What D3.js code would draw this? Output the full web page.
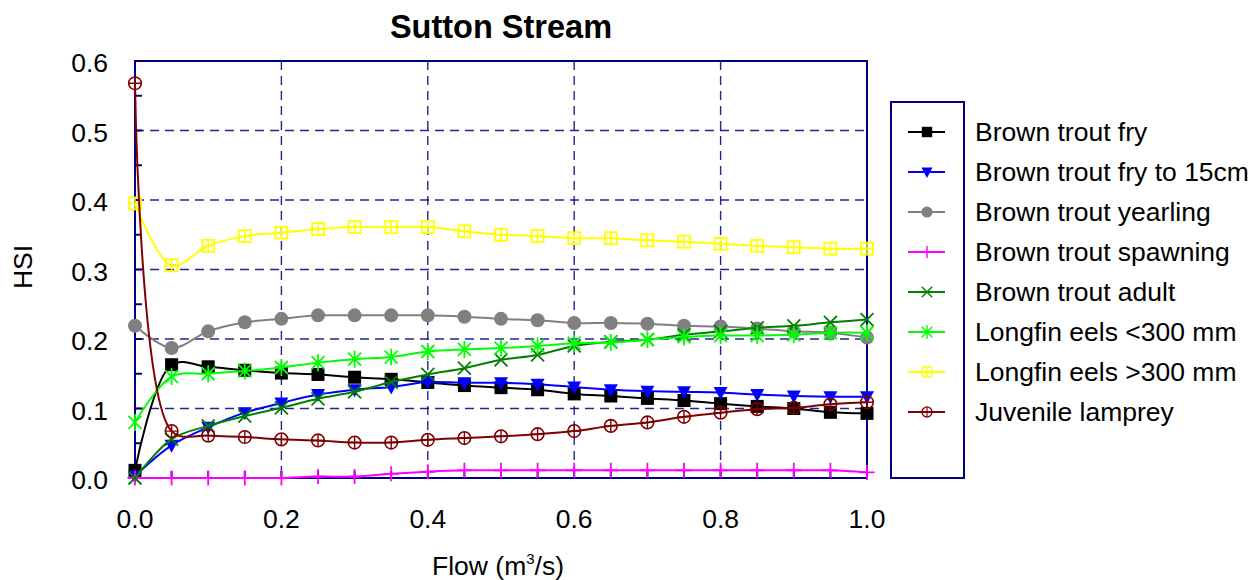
<!DOCTYPE html>
<html>
<head>
<meta charset="utf-8">
<script src="https://cdn.jsdelivr.net/npm/d3@7"></script>
<style>
  body { margin: 0; background: #fff; }
  text { font-family: "Liberation Sans", Arial, sans-serif; }
</style>
</head>
<body>
<div id="chart"></div>
<script>
// Data
const flow = [0, 0.05, 0.1, 0.15, 0.2, 0.25, 0.3, 0.35, 0.4, 0.45, 0.5,
              0.55, 0.6, 0.65, 0.7, 0.75, 0.8, 0.85, 0.9, 0.95, 1.0]

const troutFry = [0.011, 0.163, 0.16, 0.155, 0.151, 0.149, 0.145, 0.142, 0.1375, 0.133, 0.13,
                  0.127, 0.121, 0.118, 0.1145, 0.1115, 0.107, 0.103, 0.1, 0.0945, 0.093]
const troutFry15 = [0.003, 0.047, 0.073, 0.094, 0.108, 0.12, 0.127, 0.131, 0.138, 0.137, 0.137,
                    0.135, 0.131, 0.127, 0.125, 0.124, 0.123, 0.12, 0.118, 0.117, 0.117]
const troutYearling = [0.219, 0.187, 0.211, 0.224, 0.229, 0.234, 0.234, 0.234, 0.234, 0.232, 0.229,
                       0.227, 0.223, 0.223, 0.222, 0.219, 0.218, 0.215, 0.211, 0.209, 0.202]
const troutSpawning = [0, 0, 0, 0, 0, 0.002, 0.002, 0.006, 0.009, 0.011, 0.011,
                       0.011, 0.011, 0.011, 0.011, 0.011, 0.011, 0.011, 0.011, 0.011, 0.008]
const troutAdult = [0, 0.056, 0.075, 0.089, 0.101, 0.114, 0.124, 0.138, 0.149, 0.158, 0.17,
                    0.177, 0.19, 0.196, 0.199, 0.206, 0.211, 0.216, 0.219, 0.224, 0.228]
const eelsSmall = [0.08, 0.146, 0.15, 0.154, 0.159, 0.166, 0.171, 0.174, 0.182, 0.185, 0.187,
                   0.19, 0.194, 0.195, 0.199, 0.203, 0.205, 0.205, 0.206, 0.209, 0.209]
const eelsLarge = [0.395, 0.306, 0.334, 0.348, 0.353, 0.358, 0.361, 0.361, 0.361, 0.355, 0.35,
                   0.348, 0.345, 0.345, 0.342, 0.34, 0.337, 0.334, 0.332, 0.33, 0.33]
const lamprey = [0.568, 0.0675, 0.061, 0.059, 0.0556, 0.054, 0.051, 0.051, 0.055, 0.0575, 0.06,
                 0.063, 0.0675, 0.075, 0.08, 0.088, 0.094, 0.099, 0.101, 0.106, 0.109]

const seriesNames = ["Brown trout fry", "Brown trout fry to 15cm", "Brown trout yearling",
    "Brown trout spawning", "Brown trout adult", "Longfin eels <300 mm", "Longfin eels >300 mm",
    "Juvenile lamprey"]
const seriesValues = [troutFry, troutFry15, troutYearling, troutSpawning, troutAdult,
    eelsSmall, eelsLarge, lamprey]
const seriesColors = ["#000000", "#0000ff", "#808080", "#ff00ff", "#008000", "#00ff00", "#ffff00", "#800000"]
const seriesMarkers = ["square", "triangle", "circle", "plus", "cross", "star", "boxcross", "circleplus"]

const yTicks = [0, 0.1, 0.2, 0.3, 0.4, 0.5, 0.6]
const xTicks = [0, 0.2, 0.4, 0.6, 0.8, 1.0]

// Graph dimension
const W = 1252, H = 580
const margin = { top: 61, right: 385, bottom: 102, left: 135 },
    width = W - margin.left - margin.right,
    height = H - margin.top - margin.bottom

const svg = d3.select("#chart")
    .append("svg")
    .attr("width", W)
    .attr("height", H)

const g = svg.append("g")
    .attr("transform", `translate(${margin.left},${margin.top})`)

const x = d3.scaleLinear().domain([0, 1]).range([0, width])
const y = d3.scaleLinear().domain([0, 0.6]).range([height, 0])

const navy = "#000080"
const fs = "26.5px"

// grid
g.selectAll(".hgrid")
    .data(yTicks.slice(1, -1))
    .join("line")
    .attr("x1", 0).attr("x2", width)
    .attr("y1", d => y(d)).attr("y2", d => y(d))
    .attr("stroke", navy).attr("stroke-width", 1.4)
    .attr("stroke-dasharray", "9,6")
    .attr("opacity", 0.85)

g.selectAll(".vgrid")
    .data(xTicks.slice(1, -1))
    .join("line")
    .attr("y1", 0).attr("y2", height)
    .attr("x1", d => x(d)).attr("x2", d => x(d))
    .attr("stroke", navy).attr("stroke-width", 1.4)
    .attr("stroke-dasharray", "9,6")
    .attr("opacity", 0.85)

// inner ticks every 0.05
const yMinor = d3.range(0, 0.6001, 0.05)
g.selectAll(".ytick")
    .data(yMinor)
    .join("line")
    .attr("x1", 0).attr("x2", 7)
    .attr("y1", d => y(d)).attr("y2", d => y(d))
    .attr("stroke", navy).attr("stroke-width", 2)

const xMinor = d3.range(0, 1.0001, 0.05)
g.selectAll(".xtick")
    .data(xMinor)
    .join("line")
    .attr("y1", height).attr("y2", height - 7)
    .attr("x1", d => x(d)).attr("x2", d => x(d))
    .attr("stroke", navy).attr("stroke-width", 2)

// frame
g.append("rect")
    .attr("width", width).attr("height", height)
    .attr("fill", "none").attr("stroke", navy).attr("stroke-width", 2)

// tick labels
g.selectAll(".ylab")
    .data(yTicks)
    .join("text")
    .attr("x", -27)
    .attr("y", d => y(d) + 11)
    .attr("text-anchor", "end")
    .style("font-size", fs)
    .text(d => d.toFixed(1))

g.selectAll(".xlab")
    .data(xTicks)
    .join("text")
    .attr("x", d => x(d))
    .attr("y", height + 50)
    .attr("text-anchor", "middle")
    .style("font-size", fs)
    .text(d => d.toFixed(1))

// titles
svg.append("text")
    .attr("x", 501)
    .attr("y", 38)
    .attr("text-anchor", "middle")
    .style("font-size", "32.5px")
    .style("font-weight", "bold")
    .text("Sutton Stream")

svg.append("text")
    .attr("transform", `translate(32, 267) rotate(-90)`)
    .attr("text-anchor", "middle")
    .style("font-size", fs)
    .text("HSI")

const xt = svg.append("text")
    .attr("x", 498)
    .attr("y", 575)
    .attr("text-anchor", "middle")
    .style("font-size", fs)
xt.append("tspan").text("Flow (m")
xt.append("tspan").attr("dy", -11).style("font-size", "15px").text("3")
xt.append("tspan").attr("dy", 11).text("/s)")

// marker drawing
function drawMarker(sel, type, color) {
    if (type === "square") {
        sel.append("rect").attr("x", -6.5).attr("y", -6.5).attr("width", 13).attr("height", 13)
            .attr("fill", color)
    } else if (type === "triangle") {
        sel.append("path").attr("d", "M-7,-5.5 L7,-5.5 L0,7.5 Z").attr("fill", color)
    } else if (type === "circle") {
        sel.append("circle").attr("r", 7).attr("fill", color)
    } else if (type === "plus") {
        sel.append("path").attr("d", "M0,-7.5 V7.5 M-7.5,0 H7.5").attr("stroke", color).attr("stroke-width", 1.8)
    } else if (type === "cross") {
        sel.append("path").attr("d", "M-6.5,-6.5 L6.5,6.5 M-6.5,6.5 L6.5,-6.5").attr("stroke", color).attr("stroke-width", 1.8)
    } else if (type === "star") {
        sel.append("path").attr("d", "M-6.5,-6.5 L6.5,6.5 M-6.5,6.5 L6.5,-6.5 M0,-8.5 V8.5").attr("stroke", color).attr("stroke-width", 1.8)
    } else if (type === "boxcross") {
        sel.append("rect").attr("x", -6).attr("y", -6).attr("width", 12).attr("height", 12)
            .attr("fill", "none").attr("stroke", color).attr("stroke-width", 1.8)
        sel.append("path").attr("d", "M0,-6 V6 M-6,0 H6").attr("stroke", color).attr("stroke-width", 1.5)
    } else if (type === "circleplus") {
        sel.append("circle").attr("r", 6.3).attr("fill", "none").attr("stroke", color).attr("stroke-width", 1.6)
        sel.append("path").attr("d", "M0,-6.3 V6.3 M-6.3,0 H6.3").attr("stroke", color).attr("stroke-width", 1.4)
    }
}

const line = d3.line()
    .x((d, i) => x(flow[i]))
    .y(d => y(d))
    .curve(d3.curveCatmullRom.alpha(0.5))

seriesValues.forEach(function (vals, k) {
    g.append("path")
        .datum(vals)
        .attr("d", line)
        .attr("fill", "none")
        .attr("stroke", seriesColors[k])
        .attr("stroke-width", 2)

    g.selectAll(".m" + k)
        .data(vals)
        .join("g")
        .attr("transform", (d, i) => `translate(${x(flow[i])},${y(d)})`)
        .each(function () { drawMarker(d3.select(this), seriesMarkers[k], seriesColors[k]) })
})

// legend
svg.append("rect")
    .attr("x", 891).attr("y", 102)
    .attr("width", 73).attr("height", 376)
    .attr("fill", "none").attr("stroke", navy).attr("stroke-width", 2)

const leg = svg.selectAll(".leg")
    .data(seriesNames)
    .join("g")
    .attr("transform", (d, i) => `translate(0, ${132 + i * 40})`)

leg.append("line")
    .attr("x1", 908).attr("x2", 945)
    .attr("stroke", (d, i) => seriesColors[i]).attr("stroke-width", 2)

leg.append("g")
    .attr("transform", "translate(927,0) scale(0.8)")
    .each(function (d, i) { drawMarker(d3.select(this), seriesMarkers[i], seriesColors[i]) })

leg.append("text")
    .attr("x", 975)
    .attr("y", 9)
    .style("font-size", fs)
    .text(d => d)
</script>
</body>
</html>
